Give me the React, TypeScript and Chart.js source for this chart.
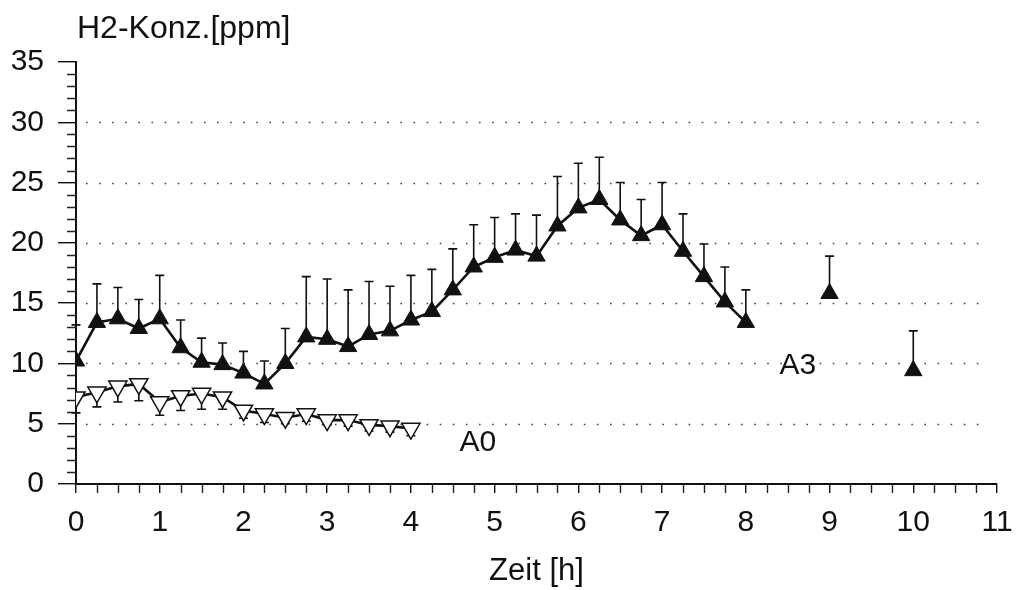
import React, { useEffect, useRef } from 'react';
import { Chart, registerables } from 'chart.js';

Chart.register(...registerables);

// ---- data ----
const A3_TIME = [0, 0.25, 0.5, 0.75, 1, 1.25, 1.5, 1.75, 2, 2.25, 2.5, 2.75, 3, 3.25, 3.5, 3.75, 4, 4.25, 4.5, 4.75, 5, 5.25, 5.5, 5.75, 6, 6.25, 6.5, 6.75, 7, 7.25, 7.5, 7.75, 8, 9, 10];
const A3_MEAN = [10.2, 13.4, 13.7, 12.9, 13.7, 11.3, 10.1, 9.9, 9.2, 8.3, 10.0, 12.2, 12.0, 11.4, 12.4, 12.7, 13.6, 14.3, 16.1, 18.0, 18.8, 19.4, 18.9, 21.4, 22.9, 23.6, 21.9, 20.6, 21.5, 19.3, 17.2, 15.1, 13.4, 15.8, 9.4];
const A3_UPPER = [13.2, 16.6, 16.3, 15.3, 17.3, 13.6, 12.1, 11.7, 11.0, 10.2, 12.9, 17.2, 17.0, 16.1, 16.8, 16.4, 17.3, 17.8, 19.5, 21.5, 22.1, 22.4, 22.3, 25.5, 26.6, 27.1, 25.0, 23.6, 25.0, 22.4, 19.9, 18.0, 16.1, 18.9, 12.7];
const A3_LAST_CONNECTED = 8; // points after this time are not joined by the line

const A0_TIME = [0, 0.25, 0.5, 0.75, 1, 1.25, 1.5, 1.75, 2, 2.25, 2.5, 2.75, 3, 3.25, 3.5, 3.75, 4];
const A0_MEAN = [7.2, 7.6, 8.1, 8.3, 6.8, 7.3, 7.5, 7.2, 6.1, 5.8, 5.5, 5.8, 5.3, 5.3, 4.9, 4.8, 4.6];
const A0_LOWER = [5.9, 6.4, 6.8, 6.9, 5.7, 6.1, 6.2, 6.2, 5.45, 5.1, 5.0, 5.2, 4.9, 4.8, 4.4, 4.3, 4.0];

const X_MIN = 0;
const X_MAX = 11;
const Y_MIN = 0;
const Y_MAX = 35;
const Y_GRID_VALUES = [5, 10, 15, 20, 25, 30];
const Y_TITLE = 'H2-Konz.[ppm]';
const X_TITLE = 'Zeit [h]';
const SERIES_NAMES = ['A0', 'A3'];

const FONT = '"Liberation Sans", Arial, Helvetica, sans-serif';

export default function App() {
  const ref = useRef<HTMLCanvasElement | null>(null);

  useEffect(() => {
    const canvas = ref.current;
    if (!canvas) return;

    const a3Pts = A3_TIME.map((t, i) => ({ x: t, y: A3_MEAN[i] }));
    const a3Line = a3Pts.filter((p) => p.x <= A3_LAST_CONNECTED);
    const a3Free = a3Pts.filter((p) => p.x > A3_LAST_CONNECTED);
    const a0Pts = A0_TIME.map((t, i) => ({ x: t, y: A0_MEAN[i] }));

    const decorPlugin = {
      id: 'decor',
      beforeDatasetsDraw(chart: any) {
        const { ctx, chartArea, scales } = chart;
        const xs = scales.x;
        const ys = scales.y;
        ctx.save();
        // dotted grid lines
        ctx.strokeStyle = '#444';
        ctx.lineWidth = 1.6;
        ctx.setLineDash([1.6, 11.5]);
        Y_GRID_VALUES.forEach((v) => {
          const y = Math.round(ys.getPixelForValue(v)) + 0.5;
          ctx.beginPath();
          ctx.moveTo(chartArea.left + 10, y);
          ctx.lineTo(chartArea.right - 8, y);
          ctx.stroke();
        });
        ctx.setLineDash([]);
        // error bars
        ctx.strokeStyle = '#111';
        ctx.lineWidth = 1.6;
        const bar = (t: number, from: number, to: number) => {
          const x = xs.getPixelForValue(t);
          const y0 = ys.getPixelForValue(from);
          const y1 = ys.getPixelForValue(to);
          ctx.beginPath();
          ctx.moveTo(x, y0);
          ctx.lineTo(x, y1);
          ctx.moveTo(x - 4.5, y1);
          ctx.lineTo(x + 4.5, y1);
          ctx.stroke();
        };
        A3_TIME.forEach((t, i) => bar(t, A3_MEAN[i], A3_UPPER[i]));
        A0_TIME.forEach((t, i) => bar(t, A0_MEAN[i], A0_LOWER[i]));
        ctx.restore();
      },
      afterDraw(chart: any) {
        const { ctx, chartArea, scales } = chart;
        const xs = scales.x;
        const ys = scales.y;
        ctx.save();
        // minor ticks
        ctx.strokeStyle = '#222';
        ctx.lineWidth = 1.4;
        ctx.beginPath();
        for (let k = X_MIN * 4; k <= X_MAX * 4; k++) {
          if (k % 4 === 0) continue;
          const x = Math.round(xs.getPixelForValue(k / 4)) + 0.5;
          ctx.moveTo(x, chartArea.bottom);
          ctx.lineTo(x, chartArea.bottom + 9);
        }
        for (let v = Y_MIN; v <= Y_MAX; v++) {
          if (v % 5 === 0) continue;
          const y = Math.round(ys.getPixelForValue(v)) + 0.5;
          ctx.moveTo(chartArea.left - 9, y);
          ctx.lineTo(chartArea.left, y);
        }
        ctx.stroke();
        // texts
        ctx.fillStyle = '#111';
        ctx.font = `32px ${FONT}`;
        ctx.textBaseline = 'middle';
        ctx.textAlign = 'left';
        ctx.fillText(Y_TITLE, chartArea.left + 1, 29);
        ctx.font = `30px ${FONT}`;
        ctx.textAlign = 'center';
        ctx.fillText(SERIES_NAMES[0], xs.getPixelForValue(4.8), ys.getPixelForValue(3.4));
        ctx.fillText(SERIES_NAMES[1], xs.getPixelForValue(8.62), ys.getPixelForValue(9.8));
        ctx.restore();
      },
    };

    const chart = new Chart(canvas, {
      type: 'scatter',
      data: {
        datasets: [
          {
            label: SERIES_NAMES[1],
            data: a3Line,
            showLine: true,
            borderColor: '#111',
            borderWidth: 2.6,
            pointStyle: 'triangle',
            pointRadius: 10,
            pointBackgroundColor: '#111',
            pointBorderColor: '#111',
            pointBorderWidth: 1,
          },
          {
            label: SERIES_NAMES[1] + ' ',
            data: a3Free,
            showLine: false,
            pointStyle: 'triangle',
            pointRadius: 10,
            pointBackgroundColor: '#111',
            pointBorderColor: '#111',
            pointBorderWidth: 1,
          },
          {
            label: SERIES_NAMES[0],
            data: a0Pts,
            showLine: true,
            borderColor: '#111',
            borderWidth: 2.6,
            pointStyle: 'triangle',
            pointRotation: 180,
            pointRadius: 10.5,
            pointBackgroundColor: '#fff',
            pointBorderColor: '#111',
            pointBorderWidth: 1.5,
          },
        ],
      },
      options: {
        responsive: false,
        animation: false,
        events: [],
        layout: { padding: { top: 62, right: 20, left: 0, bottom: 0 } },
        plugins: {
          legend: { display: false },
          tooltip: { enabled: false },
          title: { display: false },
        },
        scales: {
          x: {
            type: 'linear',
            min: X_MIN,
            max: X_MAX,
            afterFit: (s: any) => {
              s.height = 106;
              s.paddingRight = 0;
              s.paddingLeft = 0;
            },
            ticks: {
              stepSize: 1,
              color: '#111',
              padding: 12,
              font: { family: FONT, size: 30 },
              maxRotation: 0,
              autoSkip: false,
            },
            grid: {
              display: true,
              drawOnChartArea: false,
              drawTicks: true,
              tickLength: 9,
              color: '#111',
              lineWidth: 1.4,
            },
            border: { display: true, color: '#111', width: 2 },
            title: {
              display: true,
              text: X_TITLE,
              color: '#111',
              font: { family: FONT, size: 31 },
              padding: { top: 0, bottom: 0 },
            },
          },
          y: {
            type: 'linear',
            min: Y_MIN,
            max: Y_MAX,
            afterFit: (s: any) => {
              s.width = 76;
            },
            ticks: {
              stepSize: 5,
              color: '#111',
              padding: 14,
              font: { family: FONT, size: 30 },
            },
            grid: {
              display: true,
              drawOnChartArea: false,
              drawTicks: true,
              tickLength: 18,
              color: '#111',
              lineWidth: 1.4,
            },
            border: { display: true, color: '#111', width: 2 },
          },
        },
      },
      plugins: [decorPlugin],
    });

    return () => chart.destroy();
  }, []);

  return (
    <div style={{ position: 'fixed', left: 0, top: 0, width: 1017, height: 590, background: '#fff' }}>
      <canvas ref={ref} width={1017} height={590} style={{ display: 'block' }} />
    </div>
  );
}
